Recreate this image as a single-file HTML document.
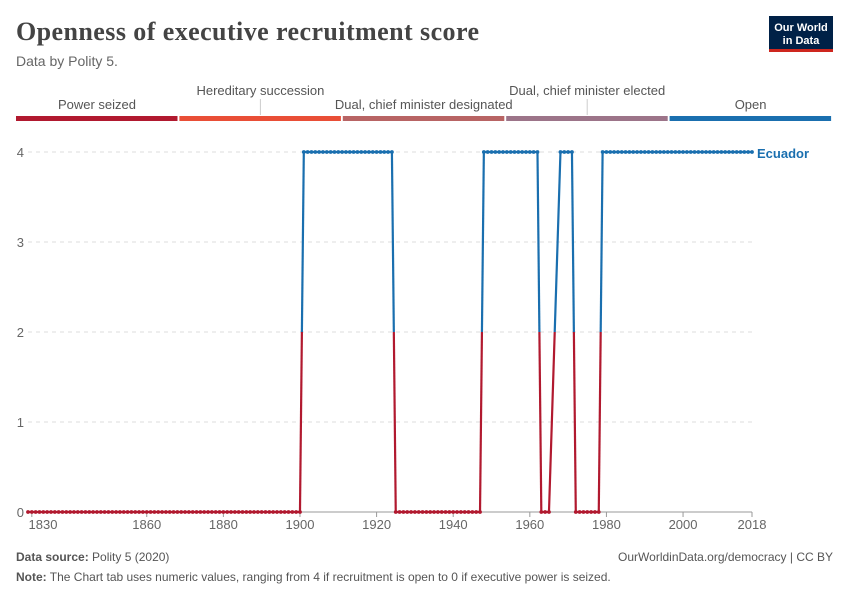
<!DOCTYPE html>
<html><head><meta charset="utf-8"><style>
body{margin:0;background:#fff;width:850px;height:600px;overflow:hidden;font-family:"Liberation Sans",sans-serif;}
</style></head><body>
<svg width="850" height="600" xmlns="http://www.w3.org/2000/svg">
<text x="16" y="40" font-family="Liberation Serif,serif" font-size="26" font-weight="bold" fill="#444" textLength="463">Openness of executive recruitment score</text>
<text x="16" y="66" font-size="14" fill="#666">Data by Polity 5.</text>
<g>
<rect x="769" y="16" width="64" height="36" fill="#002147"/>
<rect x="769" y="49" width="64" height="3" fill="#ce261e"/>
<text x="801" y="31" font-size="11" fill="#fff" text-anchor="middle" font-weight="bold">Our World</text>
<text x="801" y="44" font-size="11" fill="#fff" text-anchor="middle" font-weight="bold">in Data</text>
</g>
<g id="legend"></g>
<g id="grid"></g>
<g id="xaxis"></g>
<g id="series"></g>
<text x="16" y="561" font-size="12" fill="#555"><tspan font-weight="bold">Data source:</tspan> Polity 5 (2020)</text>
<text x="833" y="561" font-size="12" fill="#555" text-anchor="end">OurWorldinData.org/democracy | CC BY</text>
<text x="16" y="581" font-size="12" fill="#555"><tspan font-weight="bold">Note:</tspan> The Chart tab uses numeric values, ranging from 4 if recruitment is open to 0 if executive power is seized.</text>
</svg>
<script>
const legendLabels=["Power seized","Hereditary succession","Dual, chief minister designated","Dual, chief minister elected","Open"];
const legendColors=["#b1192f","#e94e36","#b86464","#9c7489","#1a6faf"];
const yTicks=[0,1,2,3,4];
const xTicks=[1830,1860,1880,1900,1920,1940,1960,1980,2000,2018];
const years=[];for(let y=1829;y<=2018;y++)years.push(y);
const missing=[1966,1967];
function val(y){if(y<=1900)return 0;if(y<=1924)return 4;if(y<=1947)return 0;if(y<=1962)return 4;if(y<=1965)return 0;if(y<=1971)return 4;if(y<=1978)return 0;return 4;}
const values=years.map(y=>missing.includes(y)?null:val(y));
const NS="http://www.w3.org/2000/svg";
const x0=28,x1=752,y0=512,y4=152;
const X=y=>x0+(y-1829)*(x1-x0)/(2018-1829);
const Y=v=>y0+(y4-y0)*v/4;
function el(t,a,p){const e=document.createElementNS(NS,t);for(const k in a)e.setAttribute(k,a[k]);p.appendChild(e);return e;}
const lg=document.getElementById('legend');
legendLabels.forEach((l,i)=>{const sx=16+i*163.4;
const r=el('rect',{x:sx,y:116,width:161.5,height:5,fill:legendColors[i]},lg);


const hi=(i===1||i===3);const cx=sx+81;
if(hi)el('line',{x1:cx,x2:cx,y1:99,y2:115,stroke:'#ccc'},lg);
const t=el('text',{x:cx,y:hi?95:109,'font-size':13,fill:'#555','text-anchor':'middle'},lg);t.textContent=l;

});
const g=document.getElementById('grid');
yTicks.forEach(v=>{if(v>0)el('line',{x1:28,x2:752,y1:Y(v),y2:Y(v),stroke:'#ddd','stroke-dasharray':'4,4'},g);
const t=el('text',{x:24,y:Y(v)+5,'font-size':13,fill:'#666','text-anchor':'end'},g);t.textContent=v;

});
const xa=document.getElementById('xaxis');
el('line',{x1:28,x2:752,y1:y0,y2:y0,stroke:'#999'},xa);
xTicks.forEach((yr,i)=>{const x=X(yr);el('line',{x1:x,x2:x,y1:y0,y2:y0+5,stroke:'#999'},xa);
const t=el('text',{x:i===0?Math.max(x,43):x,y:529,'font-size':13,fill:'#666','text-anchor':'middle'},xa);t.textContent=yr;

});
const s=document.getElementById('series');
const red="#b1192f",blue="#1a6faf";
const pts=[];years.forEach((y,i)=>{if(values[i]!==null)pts.push([y,values[i]]);});
for(let i=0;i<pts.length-1;i++){const[a,va]=pts[i],[b,vb]=pts[i+1];
if((va<2&&vb>2)||(va>2&&vb<2)){const t=(2-va)/(vb-va);const ym=a+(b-a)*t;
el('line',{x1:X(a),y1:Y(va),x2:X(ym),y2:Y(2),stroke:va<2?red:blue,'stroke-width':2.2},s);
el('line',{x1:X(ym),y1:Y(2),x2:X(b),y2:Y(vb),stroke:vb<2?red:blue,'stroke-width':2.2},s);}
else el('line',{x1:X(a),y1:Y(va),x2:X(b),y2:Y(vb),stroke:va<2?red:blue,'stroke-width':2.2},s);}
pts.forEach(([y,v])=>{const c=el('circle',{cx:X(y),cy:Y(v),r:1.9,fill:v<2?red:blue},s);

});
const lab=el('text',{x:757,y:158,'font-size':13,fill:blue,'font-weight':'bold'},s);lab.textContent="Ecuador";


</script>
</body></html>
